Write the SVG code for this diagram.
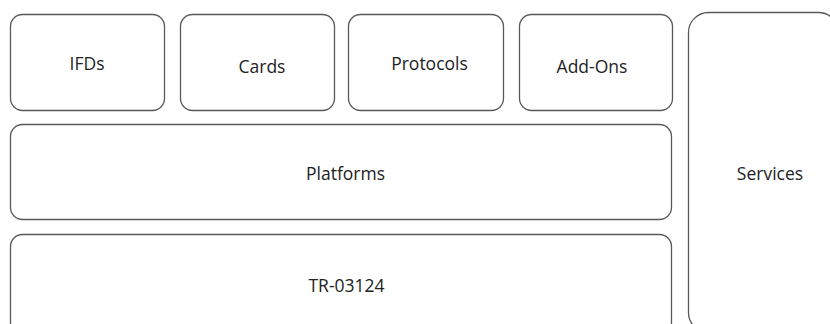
<svg xmlns="http://www.w3.org/2000/svg" width="830" height="324" viewBox="0 0 830 324">
  <style>
    .box { fill: #ffffff; stroke: #595959; stroke-width: 1.3; }
    .lbl { font-family: "Open Sans", "Liberation Sans", sans-serif; font-size: 17.5px; fill: #222222; text-anchor: middle; }
  </style>
  <rect width="830" height="324" fill="#ffffff"/>
  <g id="ifds">
    <rect class="box" x="10.5" y="14.5" width="154" height="96" rx="12"/>
    <text class="lbl" x="87" y="70">IFDs</text>
  </g>
  <g id="cards">
    <rect class="box" x="180.5" y="14.5" width="154" height="96" rx="12"/>
    <text class="lbl" x="262" y="73">Cards</text>
  </g>
  <g id="protocols">
    <rect class="box" x="348.5" y="14.5" width="155" height="96" rx="12"/>
    <text class="lbl" x="429.5" y="70">Protocols</text>
  </g>
  <g id="addons">
    <rect class="box" x="519.5" y="14.5" width="153" height="96" rx="12"/>
    <text class="lbl" x="592" y="73">Add-Ons</text>
  </g>
  <g id="platforms">
    <rect class="box" x="10.5" y="124.5" width="661" height="95" rx="12"/>
    <text class="lbl" x="345.5" y="180">Platforms</text>
  </g>
  <g id="tr03124">
    <rect class="box" x="10.5" y="234.5" width="661" height="100" rx="12"/>
    <text class="lbl" x="346.5" y="292">TR-03124</text>
  </g>
  <g id="services">
    <rect class="box" x="688.5" y="12.5" width="150" height="320" rx="20"/>
    <text class="lbl" x="770" y="180">Services</text>
  </g>
  <g id="connectors"></g>
</svg>
